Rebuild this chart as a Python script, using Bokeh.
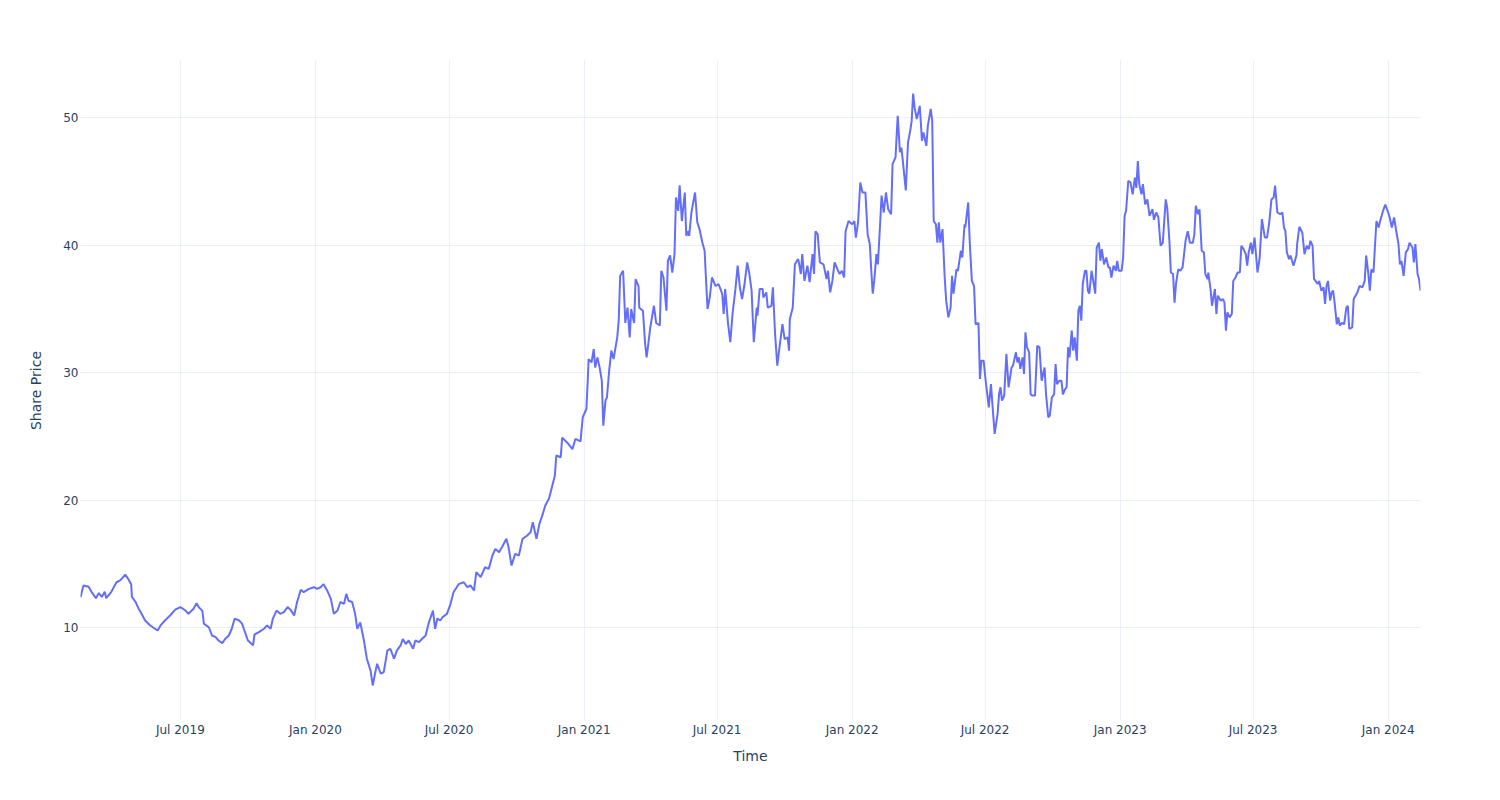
import pandas as pd
from bokeh.plotting import figure
from bokeh.models import ColumnDataSource, Range1d, FixedTicker, DatetimeTickFormatter
from bokeh.embed import file_html
from bokeh.resources import INLINE

start_date = "2019-02-15"

# days after start_date
day_offsets = [
    0, 4, 11, 15, 21, 25, 29, 33, 35, 42, 49, 54, 61, 65, 69, 70, 75, 79, 83, 88,
    95, 99, 105, 109, 115, 122, 129, 136, 143, 147, 154, 158, 161, 166, 168, 175, 179, 184, 188, 193,
    197, 202, 206, 210, 216, 220, 224, 228, 235, 237, 243, 250, 254, 259, 262, 267, 272, 277, 282, 286,
    291, 295, 300, 304, 311, 318, 322, 327, 331, 336, 341, 345, 350, 354, 359, 362, 365, 370, 374, 377,
    381, 386, 390, 395, 398, 402, 404, 409, 413, 418, 422, 427, 431, 436, 439, 443, 447, 453, 456, 461,
    465, 470, 474, 480, 483, 486, 490, 493, 499, 504, 508, 515, 522, 527, 531, 536, 539, 545, 551, 556,
    561, 565, 570, 574, 580, 583, 587, 592, 597, 602, 608, 613, 616, 621, 625, 629, 633, 638, 642, 646,
    648, 654, 656, 663, 670, 674, 681, 684, 689, 691, 692, 696, 699, 701, 704, 707, 710, 712, 715, 717,
    720, 723, 726, 731, 733, 735, 739, 742, 745, 748, 750, 754, 756, 760, 761, 766, 769, 771, 773, 776,
    781, 784, 789, 791, 794, 798, 800, 803, 806, 809, 811, 814, 816, 819, 823, 825, 828, 829, 832, 837,
    840, 843, 847, 850, 852, 854, 857, 860, 865, 869, 874, 876, 878, 882, 885, 888, 892, 895, 898, 901,
    904, 908, 911, 914, 917, 921, 922, 925, 929, 930, 934, 936, 941, 943, 946, 949, 952, 956, 959, 963,
    965, 966, 970, 973, 977, 978, 981, 983, 986, 990, 993, 997, 999, 1001, 1004, 1007, 1012, 1016, 1018, 1021,
    1024, 1027, 1031, 1034, 1037, 1040, 1042, 1046, 1051, 1054, 1056, 1059, 1062, 1065, 1069, 1072, 1075, 1077, 1079, 1081,
    1084, 1086, 1089, 1091, 1094, 1097, 1100, 1104, 1106, 1110, 1113, 1116, 1118, 1120, 1124, 1127, 1130, 1132, 1134, 1136,
    1139, 1143, 1146, 1148, 1152, 1154, 1158, 1160, 1161, 1162, 1165, 1167, 1169, 1171, 1174, 1177, 1179, 1182, 1185, 1187,
    1189, 1193, 1195, 1199, 1201, 1204, 1205, 1209, 1211, 1214, 1217, 1219, 1223, 1225, 1227, 1230, 1233, 1235, 1237, 1240,
    1242, 1245, 1249, 1251, 1253, 1255, 1258, 1261, 1264, 1268, 1270, 1274, 1276, 1278, 1280, 1283, 1285, 1287, 1289, 1292,
    1294, 1296, 1300, 1303, 1306, 1309, 1311, 1313, 1315, 1318, 1320, 1323, 1326, 1328, 1330, 1333, 1336, 1338, 1341, 1343,
    1345, 1347, 1350, 1352, 1354, 1357, 1359, 1361, 1363, 1365, 1368, 1370, 1372, 1374, 1377, 1380, 1382, 1384, 1387, 1389,
    1391, 1394, 1397, 1400, 1402, 1404, 1407, 1410, 1412, 1414, 1418, 1420, 1422, 1424, 1427, 1430, 1433, 1436, 1438, 1440,
    1442, 1445, 1447, 1450, 1453, 1456, 1460, 1462, 1465, 1468, 1471, 1474, 1478, 1480, 1483, 1485, 1488, 1490, 1492, 1495,
    1498, 1501, 1505, 1508, 1511, 1515, 1517, 1519, 1522, 1524, 1527, 1530, 1532, 1535, 1536, 1539, 1541, 1545, 1547, 1549,
    1553, 1556, 1558, 1560, 1562, 1565, 1568, 1570, 1573, 1576, 1579, 1581, 1584, 1587, 1589, 1591, 1594, 1596, 1599, 1603,
    1606, 1609, 1613, 1616, 1619, 1622, 1625, 1627, 1630, 1634, 1637, 1639, 1641, 1643, 1646, 1648, 1650, 1652, 1656, 1657,
    1660, 1664, 1667, 1670, 1673, 1675, 1678, 1680, 1682, 1685, 1687, 1690, 1693, 1695, 1697, 1699, 1702, 1704, 1706, 1708,
    1711, 1713, 1715, 1718, 1721, 1724, 1726, 1728, 1732, 1734, 1739, 1742, 1746, 1749, 1751, 1754, 1756, 1758, 1761, 1763,
    1765, 1768, 1770, 1772, 1774, 1777, 1781, 1783, 1786, 1789, 1792, 1795, 1797, 1799, 1802, 1805, 1808, 1810, 1814, 1816,
    1818, 1821, 1823, 1825,
]

prices = [
    12.38, 13.3, 13.2, 12.8, 12.3, 12.7, 12.4, 12.8, 12.3, 12.8, 13.55, 13.7, 14.15, 13.8, 13.4, 12.4, 12.0, 11.5, 11.1, 10.55,
    10.16, 10.0, 9.76, 10.16, 10.55, 10.94, 11.4, 11.6, 11.33, 11.07, 11.47, 11.9, 11.6, 11.3, 10.3, 10.0, 9.37, 9.24, 8.98, 8.77,
    9.1, 9.37, 9.9, 10.7, 10.55, 10.3, 9.63, 8.98, 8.6, 9.45, 9.63, 9.9, 10.16, 9.9, 10.7, 11.33, 11.07, 11.2, 11.6, 11.4,
    10.94, 12.0, 12.96, 12.77, 13.03, 13.16, 13.03, 13.16, 13.4, 12.9, 12.25, 11.07, 11.33, 12.0, 11.86, 12.64, 12.1, 12.0, 11.07, 9.9,
    10.4, 8.98, 7.55, 6.63, 5.45, 6.63, 7.15, 6.37, 6.5, 8.2, 8.33, 7.55, 8.2, 8.6, 9.1, 8.7, 8.98, 8.33, 8.98, 8.85,
    9.1, 9.37, 10.3, 11.33, 9.9, 10.7, 10.55, 10.8, 11.07, 11.86, 12.77, 13.4, 13.55, 13.16, 13.3, 12.9, 14.34, 13.95, 14.73, 14.6,
    15.65, 16.17, 15.9, 16.3, 16.96, 16.3, 14.86, 15.78, 15.65, 16.96, 17.2, 17.47, 18.26, 16.96, 18.13, 18.8, 19.57, 20.1, 21.0, 21.9,
    23.5, 23.36, 24.9, 24.5, 24.0, 24.8, 24.6, 26.5, 27.15, 29.6, 31.07, 30.8, 31.86, 30.4, 31.2, 30.4, 29.37, 25.84, 27.8, 28.06,
    30.16, 31.73, 31.07, 32.77, 34.08, 37.6, 38.0, 33.9, 35.1, 32.77, 35.0, 33.9, 37.35, 36.8, 35.1, 34.86, 32.25, 31.2, 32.1, 33.55,
    35.25, 33.9, 33.7, 38.0, 37.47, 34.86, 38.78, 39.2, 37.86, 39.3, 43.75, 42.7, 44.7, 41.9, 44.14, 40.74, 41.1, 40.74, 42.57, 44.14,
    41.8, 41.27, 40.2, 39.57, 37.2, 35.0, 35.9, 37.47, 36.8, 36.96, 36.18, 34.6, 36.57, 33.8, 32.4, 34.6, 36.57, 38.4, 36.7, 35.78,
    36.8, 38.65, 37.74, 36.43, 32.4, 35.1, 34.47, 36.57, 36.57, 35.9, 36.3, 35.1, 35.25, 36.7, 33.0, 30.55, 32.0, 33.8, 32.64, 32.77,
    31.73, 34.2, 35.1, 38.5, 38.9, 38.78, 37.74, 39.3, 37.2, 38.4, 37.1, 39.3, 37.74, 41.1, 40.87, 38.65, 38.5, 37.35, 38.0, 36.3,
    37.2, 38.65, 38.1, 37.74, 38.0, 37.47, 41.1, 41.9, 41.65, 41.9, 40.6, 41.8, 44.93, 44.14, 44.14, 40.87, 40.1, 38.0, 36.2, 37.2,
    39.3, 38.5, 41.65, 43.9, 42.57, 44.14, 42.83, 42.44, 46.37, 46.9, 50.16, 47.3, 47.67, 46.6, 44.3, 48.07, 48.98, 49.76, 51.9, 50.8,
    49.9, 50.94, 48.2, 48.85, 47.8, 49.37, 50.7, 49.76, 45.8, 41.9, 41.65, 40.2, 41.8, 40.2, 41.27, 37.47, 35.65, 34.34, 35.1, 37.6,
    36.2, 38.1, 38.0, 39.57, 39.04, 41.65, 41.4, 43.36, 40.35, 37.2, 36.8, 33.8, 33.9, 29.5, 30.94, 30.94, 29.24, 28.3, 27.28, 29.1,
    27.5, 25.2, 26.76, 28.3, 28.85, 27.8, 28.2, 31.47, 28.85, 30.4, 30.55, 31.6, 30.8, 31.2, 30.3, 31.2, 29.9, 33.16, 32.0, 31.6,
    28.3, 28.2, 28.2, 32.1, 32.0, 29.37, 29.9, 30.4, 28.3, 26.5, 26.6, 28.06, 28.3, 30.68, 29.1, 29.37, 29.37, 28.3, 28.7, 28.85,
    32.0, 31.2, 33.3, 31.73, 32.77, 30.94, 34.86, 35.25, 34.08, 36.96, 38.0, 38.0, 36.43, 36.2, 38.0, 36.96, 36.2, 39.83, 40.2, 38.78,
    39.7, 38.5, 39.04, 38.26, 38.26, 37.47, 38.4, 38.0, 38.78, 38.0, 38.0, 39.04, 42.3, 42.7, 45.06, 44.93, 44.0, 45.3, 44.5, 46.6,
    44.8, 44.0, 44.8, 43.2, 43.6, 42.3, 42.83, 42.0, 42.57, 42.2, 39.96, 40.2, 43.6, 42.97, 40.35, 37.86, 37.74, 35.5, 36.96, 38.1,
    38.0, 38.26, 40.35, 41.1, 40.2, 40.2, 40.87, 43.1, 42.44, 42.83, 39.57, 39.44, 37.74, 37.35, 37.86, 36.57, 35.25, 36.57, 34.6, 36.04,
    35.65, 35.78, 35.5, 33.3, 34.73, 34.34, 34.6, 37.2, 37.47, 37.86, 37.86, 39.96, 39.7, 39.3, 38.4, 39.44, 40.2, 39.3, 40.6, 37.86,
    39.04, 42.05, 40.6, 40.6, 41.8, 43.6, 43.75, 44.67, 42.57, 42.44, 42.57, 41.4, 41.1, 39.44, 38.9, 39.2, 38.78, 38.4, 39.2, 40.1,
    41.45, 41.0, 39.3, 39.96, 39.7, 40.35, 39.96, 37.35, 37.2, 36.96, 37.2, 36.43, 36.7, 35.4, 36.8, 37.2, 35.65, 36.3, 36.43, 35.5,
    33.8, 34.34, 33.7, 33.9, 33.8, 35.1, 35.25, 33.43, 33.55, 35.78, 36.3, 36.8, 36.7, 37.2, 39.2, 37.74, 36.43, 38.1, 37.86, 39.96,
    41.9, 41.4, 41.9, 42.3, 42.7, 43.2, 42.57, 42.18, 41.4, 42.18, 41.1, 40.1, 38.5, 38.78, 37.6, 39.44, 39.7, 40.2, 39.83, 38.65,
    40.1, 37.74, 37.35, 36.43,
]

tick_dates = ["2019-07-01", "2020-01-01", "2020-07-01", "2021-01-01", "2021-07-01",
              "2022-01-01", "2022-07-01", "2023-01-01", "2023-07-01", "2024-01-01"]
y_ticks = [10, 20, 30, 40, 50]
x_title = "Time"
y_title = "Share Price"

dates = pd.Timestamp(start_date) + pd.to_timedelta(day_offsets, unit="D")
src = ColumnDataSource(dict(date=dates, price=prices))

FONT = "DejaVu Sans"
TXT = "#2a3f5f"
GRID = "#EBF0F8"

p = figure(width=1500, height=800, output_backend="svg", toolbar_location=None,
           x_axis_type="datetime",
           x_range=Range1d(dates[0], dates[-1]),
           y_range=Range1d(2.7, 54.5),
           min_border_left=80, min_border_right=80, min_border_top=60, min_border_bottom=80)

p.line(x="date", y="price", source=src, line_color="#636efa", line_width=2)

p.outline_line_color = None
p.background_fill_color = "white"
p.border_fill_color = "white"

p.xaxis.ticker = FixedTicker(ticks=[pd.Timestamp(d).value / 1e6 for d in tick_dates])
fmt = "%b %Y"
p.xaxis.formatter = DatetimeTickFormatter(years=fmt, months=fmt, days=fmt, hours=fmt,
                                          minutes=fmt, seconds=fmt, milliseconds=fmt,
                                          microseconds=fmt, hourmin=fmt, minsec=fmt)
p.yaxis.ticker = FixedTicker(ticks=y_ticks)

for ax in (p.xaxis, p.yaxis):
    ax.axis_line_color = None
    ax.major_tick_line_color = None
    ax.minor_tick_line_color = None
    ax.major_tick_out = 0
    ax.major_tick_in = 0
    ax.minor_tick_out = 0
    ax.minor_tick_in = 0
    ax.major_label_text_font = FONT
    ax.major_label_text_font_size = "12px"
    ax.major_label_text_color = TXT
    ax.axis_label_text_font = FONT
    ax.axis_label_text_font_size = "14px"
    ax.axis_label_text_color = TXT
    ax.axis_label_text_font_style = "normal"

p.xaxis.axis_label = x_title
p.yaxis.axis_label = y_title
p.xaxis.major_label_standoff = 2
p.xaxis.axis_label_standoff = 8
p.yaxis.major_label_standoff = 2
p.yaxis.axis_label_standoff = 16

p.xgrid.grid_line_color = GRID
p.ygrid.grid_line_color = GRID
p.xgrid.grid_line_width = 1
p.ygrid.grid_line_width = 1

open("out.html", "w").write(file_html(p, INLINE))
